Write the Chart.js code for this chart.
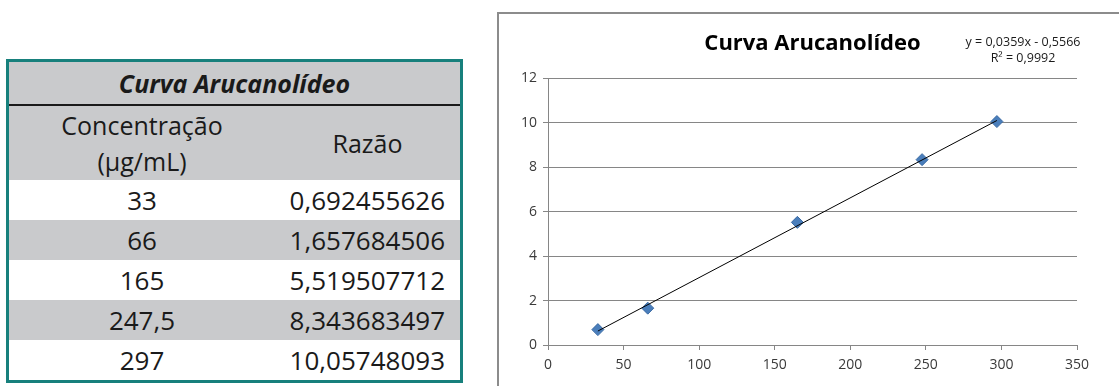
<!DOCTYPE html>
<html>
<head>
<meta charset="utf-8">
<script src="https://cdn.jsdelivr.net/npm/chart.js@4.4.0/dist/chart.umd.min.js"></script>
<style>
  body { margin: 0; width: 1119px; height: 386px; overflow: hidden; background: #fff; position: relative; font-family: 'Open Sans', sans-serif; color: #1a1a1a; }
  #caixaTabela { position: absolute; left: 6px; top: 59px; width: 451px; border: 3px solid #17807c; }
  table { width: 100%; border-collapse: collapse; }
  td { padding: 0; text-align: center; font-size: 26px; }
  .titulo td { height: 42px; background: #c9cacc; font-weight: bold; font-style: italic; font-size: 25px; border-bottom: 2px solid #1a1a1a; }
  .cab td { height: 74px; background: #c9cacc; line-height: 36px; font-size: 25px; }
  .linha td { height: 40px; }
  .linha.cinza td { background: #c9cacc; }
  td.num { text-align: right; padding-right: 15px; }
  #caixaGrafico { position: absolute; left: 497px; top: 12px; width: 700px; height: 400px; border-left: 2px solid #8c8c8c; border-top: 2px solid #8c8c8c; }
  #grafico { position: absolute; left: 499px; top: 14px; }
  .eq { position: absolute; left: 958px; width: 130px; text-align: center; font-size: 12.5px; color: #1a1a1a; }
</style>
</head>
<body>
<div id="caixaTabela"><table id="tabela"></table></div>
<div id="caixaGrafico"></div>
<canvas id="grafico" width="620" height="372"></canvas>
<div class="eq" id="eq1" style="top:33px"></div>
<div class="eq" id="eq2" style="top:49px"></div>
<script>
// dados da curva
const concentracao = [33, 66, 165, 247.5, 297];
const razao = [0.692455626, 1.657684506, 5.519507712, 8.343683497, 10.05748093];
const xTicks = [0, 50, 100, 150, 200, 250, 300, 350];
const yTicks = [0, 2, 4, 6, 8, 10, 12];
// linha de tendencia mostrada no grafico
const inclinacao = 0.0359;
const intercepto = -0.5566;
const r2 = 0.9992;

const virgula = v => String(v).replace('.', ',');

// tabela
let html = `<tr class="titulo"><td colspan="2">Curva Arucanolídeo</td></tr>
<tr class="cab"><td style="width:266px">Concentração<br>(µg/mL)</td><td>Razão</td></tr>`;
for (let i = 0; i < concentracao.length; i++) {
    html += `<tr class="linha${i % 2 ? ' cinza' : ''}"><td>${virgula(concentracao[i])}</td><td class="num">${virgula(razao[i])}</td></tr>`;
}
document.getElementById('tabela').innerHTML = html;

document.getElementById('eq1').textContent = `y = ${virgula(inclinacao)}x - ${virgula(Math.abs(intercepto))}`;
document.getElementById('eq2').textContent = `R² = ${virgula(r2)}`;

const pontos = concentracao.map((c, i) => ({ x: c, y: razao[i] }));
const xMin = Math.min(...concentracao);
const xMax = Math.max(...concentracao);
const tendencia = [
    { x: xMin, y: inclinacao * xMin + intercepto },
    { x: xMax, y: inclinacao * xMax + intercepto }
];

const cinza = '#868686';
const fonteEixo = { family: 'Open Sans', size: 14 };

let ctx = document.getElementById('grafico').getContext('2d');
let myChart = new Chart(ctx, {
    type: 'scatter',
    data: {
        datasets: [{
                data: pontos,
                pointStyle: 'rectRot',
                radius: 6,
                backgroundColor: '#4a7ebb',
                borderColor: '#3a6aa3',
                borderWidth: 1,
                showLine: false,
                order: 2
            },
            {
                data: tendencia,
                showLine: true,
                borderColor: '#000',
                borderWidth: 1,
                pointRadius: 0,
                fill: false,
                order: 1
            }
        ]
    },
    options: {
        responsive: false,
        animation: false,
        layout: { padding: { right: 42 } },
        plugins: {
            legend: { display: false },
            tooltip: { enabled: false },
            title: {
                display: true,
                fullSize: false,
                text: 'Curva Arucanolídeo',
                color: '#000',
                font: { family: 'Open Sans', size: 22, weight: 'bold' },
                padding: { top: 17, bottom: 21 }
            }
        },
        scales: {
            x: {
                type: 'linear',
                min: xTicks[0],
                max: xTicks[xTicks.length - 1],
                afterBuildTicks: s => { s.ticks = xTicks.map(v => ({ value: v })); },
                afterFit: s => { s.height = 41; },
                grid: { drawOnChartArea: false, drawTicks: true, tickLength: 5, color: cinza },
                border: { color: cinza },
                ticks: { color: '#3a3a3a', font: fonteEixo, padding: 7, maxRotation: 0 }
            },
            y: {
                min: yTicks[0],
                max: yTicks[yTicks.length - 1],
                afterBuildTicks: s => { s.ticks = yTicks.map(v => ({ value: v })); },
                afterFit: s => { s.width = 49; },
                grid: { color: cinza, tickLength: 5 },
                border: { color: cinza },
                ticks: { color: '#3a3a3a', font: fonteEixo, padding: 6 }
            }
        }
    }
});
</script>
</body>
</html>
